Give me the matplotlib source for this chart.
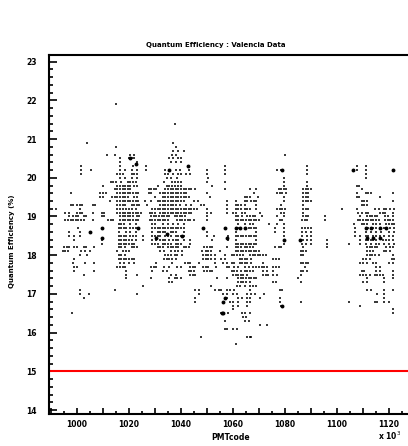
import matplotlib
matplotlib.use("Agg")
import matplotlib.pyplot as plt
from matplotlib.ticker import MultipleLocator, FuncFormatter

# QE levels (%) and the PMT codes (x 10^3) read at each level
qe_levels = [21.9, 21.4, 20.9, 20.8, 20.7, 20.6, 20.5, 20.4, 20.3, 20.2,
             20.1, 20.0, 19.9, 19.8, 19.7, 19.6, 19.5, 19.4, 19.3, 19.2,
             19.1, 19.0, 18.9, 18.8, 18.7, 18.6, 18.5, 18.4, 18.3, 18.2,
             18.1, 18.0, 17.9, 17.8, 17.7, 17.6, 17.5, 17.4, 17.3, 17.2,
             17.1, 17.0, 16.9, 16.8, 16.7, 16.6, 16.5, 16.4, 16.3, 16.2,
             16.1, 15.9, 15.7]

pmt_rows = [
    [1015],
    [1037.5],
    [1004, 1037],
    [1015, 1038],
    [1037, 1039, 1041],
    [1011.5, 1014.5, 1020.5, 1022, 1036.5, 1038, 1080],
    [1016.5, 1020, 1021, 1022, 1035.5, 1037, 1039, 1040],
    [1016.5, 1023, 1036, 1038, 1040],
    [1001.5, 1016.5, 1021.5, 1026.5, 1042.5, 1057, 1088.5, 1107.5, 1111],
    [1001.5, 1005.5, 1016.5, 1018.5, 1021, 1023, 1026.5, 1034, 1035.5, 1038,
     1039.5, 1043, 1050, 1057, 1077, 1078.5, 1088.5, 1106.5, 1107.5, 1111, 1121.5],
    [1001.5, 1015.5, 1016.5, 1017.5, 1021, 1022, 1023, 1034, 1035, 1037, 1039,
     1040, 1042, 1043.5, 1050, 1057, 1088.5, 1111],
    [1016.5, 1018.5, 1021, 1023, 1034.5, 1036, 1038.5, 1050.5, 1079.5, 1111],
    [1013, 1014, 1015, 1017, 1019.5, 1020.5, 1021.5, 1022.5, 1033.5, 1036.5,
     1037.5, 1039, 1040, 1050, 1057, 1079.5, 1088.5],
    [1010, 1015.5, 1016.5, 1017.5, 1018.5, 1019.5, 1020.5, 1022, 1023, 1031,
     1034.5, 1035.5, 1036.5, 1037.5, 1039, 1040, 1052, 1079.5, 1088.5, 1107.5, 1108.5],
    [1014.5, 1015.5, 1016.5, 1017.5, 1018.5, 1019.5, 1020.5, 1027.5, 1028.5,
     1029.5, 1030.5, 1034, 1035, 1036, 1037, 1038, 1039, 1040, 1041, 1042, 1043,
     1044, 1045.5, 1057, 1066.5, 1069, 1077.5, 1078.5, 1079.5, 1080.5, 1087,
     1088, 1089, 1090, 1109.5],
    [997.5, 1009, 1010, 1011, 1015.5, 1016.5, 1017.5, 1018.5, 1019.5, 1020.5,
     1021.5, 1022.5, 1023.5, 1027.5, 1028.5, 1032, 1033, 1034, 1035, 1036, 1037,
     1038, 1039, 1040, 1041, 1042, 1050, 1068, 1077, 1078, 1079, 1080.5, 1087,
     1088, 1089, 1107.5, 1111, 1112, 1113, 1121.5],
    [1009, 1010, 1013.5, 1014.5, 1015.5, 1016.5, 1017.5, 1018.5, 1019.5, 1022,
     1023, 1030, 1033, 1034, 1035, 1036, 1037, 1038, 1039, 1040, 1041, 1042, 1043,
     1051, 1064.5, 1065.5, 1066.5, 1069.5, 1079.5, 1087, 1088, 1089, 1107.5,
     1108.5, 1116.5],
    [1012.5, 1015.5, 1016.5, 1017.5, 1018.5, 1019.5, 1020.5, 1021.5, 1022.5,
     1023.5, 1026, 1028.5, 1031, 1032, 1033, 1034, 1035, 1036, 1037, 1038, 1039,
     1040, 1041, 1045, 1046.5, 1057.5, 1061, 1064.5, 1065.5, 1067, 1068, 1069,
     1079.5, 1087, 1088, 1089, 1090, 1109.5, 1110.5, 1111.5, 1121.5],
    [997.5, 998.5, 1000, 1001, 1002, 1006, 1007, 1015.5, 1016.5, 1017.5, 1018.5,
     1021, 1022, 1023, 1024, 1027, 1032, 1033, 1034, 1035, 1036, 1037, 1038,
     1039.5, 1042, 1044, 1047.5, 1049, 1057.5, 1061, 1062, 1063, 1064.5, 1069,
     1078.5, 1087, 1109.5, 1110.5, 1111.5],
    [992, 1001, 1015.5, 1016.5, 1017.5, 1019, 1020, 1021, 1022.5, 1029, 1030,
     1031, 1032, 1033, 1034, 1035, 1036, 1037, 1038, 1039, 1040, 1041, 1042, 1043,
     1044, 1045, 1046, 1050, 1057.5, 1061, 1062, 1063, 1064.5, 1065.5, 1066.5,
     1069, 1077, 1078, 1079, 1080, 1087, 1088, 1089, 1102, 1107.5, 1114.5, 1116,
     1118, 1119, 1120.5, 1122],
    [995.5, 997, 1000, 1001, 1002, 1006, 1009.5, 1010.5, 1015.5, 1016.5, 1017.5,
     1018.5, 1019.5, 1020.5, 1021.5, 1022.5, 1023.5, 1024.5, 1028, 1029, 1030,
     1032, 1033, 1034, 1035, 1036, 1037, 1038, 1039, 1040, 1041, 1042, 1043, 1044,
     1050, 1051.5, 1057.5, 1060, 1061, 1063.5, 1064.5, 1070.5, 1078.5, 1079.5,
     1087, 1108, 1109.5, 1111, 1112, 1116.5, 1117.5, 1118.5, 1121.5],
    [997, 998.5, 999.5, 1000.5, 1002.5, 1003.5, 1009.5, 1010.5, 1016.5, 1017.5,
     1018.5, 1019.5, 1020.5, 1021.5, 1023, 1024, 1028.5, 1029.5, 1030.5, 1031.5,
     1032.5, 1033.5, 1034.5, 1035.5, 1037.5, 1038.5, 1039.5, 1040.5, 1041.5, 1050,
     1061, 1062, 1063.5, 1065.5, 1066.5, 1067.5, 1068.5, 1071, 1077, 1079.5, 1087,
     1088, 1089, 1095.5, 1109, 1111.5, 1112.5, 1113.5, 1114.5, 1115.5, 1118.5,
     1119.5, 1121.5],
    [995.5, 996.5, 997.5, 998.5, 999.5, 1000.5, 1001.5, 1002.5, 1006, 1012, 1013,
     1014, 1016.5, 1017.5, 1018.5, 1019.5, 1020.5, 1021.5, 1022.5, 1023.5, 1028,
     1029, 1030, 1031, 1032, 1033, 1034, 1035, 1038.5, 1039.5, 1040.5, 1041.5,
     1042.5, 1043.5, 1045, 1050, 1061, 1062, 1063, 1064, 1065, 1066, 1067, 1068,
     1069, 1070, 1078, 1079, 1086.5, 1087.5, 1088.5, 1095.5, 1108, 1109, 1110,
     1111, 1112, 1113, 1114, 1115, 1116, 1118.5, 1119.5, 1120.5, 1121.5],
    [1016, 1017, 1018, 1020.5, 1022.5, 1029, 1030, 1033, 1035, 1037, 1039, 1041,
     1062, 1064.5, 1066.5, 1067.5, 1074, 1077, 1079.5, 1106.5, 1109.5, 1110.5,
     1111.5, 1114, 1115, 1116.5, 1119, 1120, 1121, 1122],
    [1000.5, 1009.5, 1016, 1017, 1018, 1019, 1020.5, 1021.5, 1022.5, 1023.5,
     1029, 1030, 1031, 1032, 1033, 1034, 1035, 1036, 1037, 1038, 1039, 1040, 1041,
     1048.5, 1057, 1061, 1062, 1064.5, 1066, 1067, 1068, 1069, 1076, 1079.5,
     1086.5, 1087.5, 1089, 1090, 1107, 1111, 1112, 1113, 1114, 1115, 1116.5, 1118,
     1119, 1120.5, 1122],
    [997, 1001, 1005, 1016, 1019, 1020.5, 1022.5, 1029, 1031, 1032, 1033, 1034,
     1036, 1037, 1038, 1041, 1050, 1061, 1069, 1076, 1079.5, 1086.5, 1088, 1090,
     1107, 1111, 1113, 1115, 1117, 1120, 1122],
    [997, 999, 1001, 1016, 1017, 1018, 1019, 1020.5, 1021.5, 1022.5, 1025.5, 1029,
     1030, 1031, 1032, 1034, 1035, 1036, 1038, 1039, 1040, 1041, 1050, 1052.5,
     1058, 1061, 1062, 1063, 1064, 1065, 1066, 1067, 1068, 1069, 1079.5, 1086.5,
     1088.5, 1090, 1107, 1109, 1111, 1112, 1114, 1115, 1116.5, 1118, 1120, 1121.5],
    [999, 1009.5, 1016, 1017, 1018, 1019, 1020, 1021, 1022.5, 1025.5, 1029,
     1030.5, 1032, 1033, 1034, 1035.5, 1037, 1038, 1039, 1041, 1043.5, 1052, 1058,
     1061, 1069, 1079.5, 1086, 1087, 1088.5, 1090, 1096, 1109, 1111, 1112, 1113,
     1114, 1115, 1117.5, 1119, 1120, 1121.5],
    [1009.5, 1016, 1017, 1018, 1019, 1020, 1021, 1022, 1029, 1030, 1031, 1033,
     1034, 1035, 1036, 1038, 1039, 1040, 1043.5, 1061, 1062, 1063, 1064, 1065,
     1066, 1067, 1068, 1069, 1079.5, 1086.5, 1088, 1090, 1096, 1104.5, 1109, 1111,
     1113, 1115, 1116, 1118, 1120, 1122],
    [995, 996, 997, 999, 1000, 1002.5, 1003.5, 1006.5, 1016, 1017, 1018.5, 1021,
     1022, 1023, 1031, 1032, 1033, 1035, 1036, 1037, 1038, 1039, 1041, 1042, 1043,
     1049, 1050, 1051, 1052, 1057.5, 1061, 1062, 1063, 1064.5, 1065.5, 1066.5,
     1067.5, 1076, 1077.5, 1078.5, 1087, 1096, 1111.5, 1112.5, 1113.5, 1114.5,
     1115.5, 1119, 1120.5, 1121.5],
    [994.5, 995.5, 996.5, 1001.5, 1003, 1005, 1015.5, 1017.5, 1019, 1020, 1032,
     1033.5, 1036, 1037.5, 1039, 1040.5, 1048, 1049.5, 1050.5, 1051.5, 1055, 1061,
     1062, 1063, 1064, 1065, 1066, 1067, 1068, 1069, 1070, 1086, 1087, 1088,
     1111.5, 1112.5, 1114, 1118, 1119, 1120.5],
    [1001, 1004, 1016, 1017, 1018.5, 1034, 1035, 1036, 1037.5, 1038.5, 1040.5,
     1048.5, 1049.5, 1050.5, 1051.5, 1053, 1057, 1059.5, 1060.5, 1061.5, 1062.5,
     1064, 1066.5, 1067.5, 1068.5, 1069.5, 1070.5, 1071.5, 1072.5, 1086, 1087,
     1111.5, 1112.5, 1113.5, 1114.5, 1116, 1121.5],
    [999, 1016, 1017, 1018, 1019, 1020, 1021, 1022, 1033.5, 1034.5, 1035.5,
     1036.5, 1038, 1048.5, 1049.5, 1050.5, 1051.5, 1053, 1055.5, 1057, 1062.5,
     1063.5, 1064.5, 1065.5, 1067, 1075.5, 1076.5, 1077.5, 1110, 1111, 1112.5,
     1121, 1122],
    [998.5, 1003, 1006.5, 1016.5, 1018, 1020, 1022, 1030.5, 1036.5, 1041.5,
     1042.5, 1043.5, 1047, 1053, 1056, 1057.5, 1059.5, 1060.5, 1062.5, 1063.5,
     1064.5, 1065.5, 1067, 1071.5, 1086, 1087, 1088, 1089, 1109, 1110, 1111.5,
     1114, 1115, 1120, 1121.5],
    [999, 1000, 1015.5, 1016.5, 1017.5, 1018.5, 1028.5, 1029.5, 1030.5, 1033.5,
     1035.5, 1038.5, 1040, 1043.5, 1044.5, 1045.5, 1048.5, 1049.5, 1050.5, 1053.5,
     1057.5, 1058.5, 1060.5, 1062, 1064.5, 1066, 1067.5, 1069, 1070, 1071, 1072,
     1073, 1075.5, 1076.5, 1077.5, 1087.5, 1115, 1116.5],
    [999, 1006.5, 1019, 1029, 1033, 1034.5, 1043, 1044, 1045, 1049, 1050, 1051,
     1052, 1059.5, 1060.5, 1061.5, 1063, 1064.5, 1065.5, 1066.5, 1067.5, 1071.5,
     1073, 1075.5, 1086, 1087, 1088.5, 1109.5, 1110.5, 1115, 1116.5, 1121.5],
    [1002.5, 1019, 1023, 1036, 1038, 1043.5, 1044.5, 1045.5, 1060, 1061, 1062,
     1063, 1064, 1065.5, 1071.5, 1072.5, 1073.5, 1075.5, 1077, 1086, 1109, 1110,
     1111, 1112.5, 1114.5, 1115.5, 1116.5, 1117.5, 1121.5],
    [1019, 1028.5, 1035.5, 1037.5, 1038.5, 1040, 1054, 1057.5, 1062, 1063, 1064,
     1065, 1066, 1067, 1068, 1069, 1085, 1111.5, 1118, 1121.5],
    [1035.5, 1036.5, 1062, 1063, 1064, 1065, 1066.5, 1075.5, 1076.5, 1086, 1110,
     1111.5, 1118],
    [1025.5, 1051.5, 1061.5, 1062.5, 1064.5, 1066.5, 1067.5, 1069],
    [1001, 1014.5, 1045.5, 1047, 1053, 1054.5, 1055.5, 1057.5, 1059, 1060.5,
     1066.5, 1078, 1079, 1111.5, 1113, 1118, 1121.5],
    [1001, 1004.5, 1023, 1047, 1056, 1057.5, 1060, 1061.5, 1065.5, 1067, 1068.5,
     1072, 1115.5, 1118],
    [1002.5, 1045.5, 1057.5, 1062, 1063.5, 1065.5, 1066.5, 1070.5, 1078, 1118],
    [1045.5, 1056.5, 1059, 1060, 1062, 1065.5, 1066.5, 1078, 1086, 1104.5,
     1114.5, 1115.5, 1118, 1120],
    [1060, 1062, 1065.5, 1078.5, 1109],
    [1060, 1121.5],
    [998, 1055.5, 1058, 1063.5, 1064.5, 1066.5, 1121.5],
    [1064, 1065],
    [1057, 1064.5, 1066],
    [1070.5, 1073],
    [1057, 1057.5, 1060, 1061.5],
    [1047.5, 1065.5, 1066.5, 1067],
    [1061],
]

# spots where several measurements pile up on top of each other
dense_pmt = [1005, 1009.5, 1009.5, 1023.5, 1030.5, 1034.5, 1040.5, 1048.5,
             1020.5, 1022.5, 1042.5, 1035.5, 1056.8, 1056.2, 1057, 1057.5,
             1061, 1062.5, 1064.5, 1078.7, 1106.3, 1121.7, 1079.5, 1085.8,
             1111, 1113, 1116.5, 1119, 1111.5, 1114, 1116.5, 1056.3, 1078.7,
             1055.6]
dense_qe = [18.6, 18.7, 18.45, 18.7, 18.45, 18.55, 18.5, 18.7,
            20.5, 20.35, 20.3, 20.2, 16.9, 16.5, 18.7, 18.45,
            18.7, 18.7, 18.7, 20.2, 20.2, 20.2, 18.4, 18.4,
            18.7, 18.7, 18.7, 18.7, 18.45, 18.45, 18.45, 16.8, 16.7,
            16.5]

qe_limit = 15.0

pmt = []
qe = []
for level, row in zip(qe_levels, pmt_rows):
    pmt += row
    qe += [level] * len(row)

fig = plt.figure(figsize=(4.08, 4.46), dpi=100)
ax = fig.add_axes([0.120, 0.0717, 0.880, 0.805])

ax.plot(pmt, qe, ls="none", marker="_", ms=1.6, mew=1.1, color="black",
        antialiased=False)
ax.plot(dense_pmt, dense_qe, ls="none", marker="o", ms=2.8, mew=0, color="black",
        antialiased=False)
ax.axhline(qe_limit, color="red", lw=1.5)

ax.set_xlim(989.2, 1127.3)
ax.set_ylim(13.9, 23.17)

for side in ["left", "bottom", "top"]:
    ax.spines[side].set_linewidth(1.5)
ax.spines["right"].set_visible(False)

ax.xaxis.set_major_locator(MultipleLocator(10))
ax.xaxis.set_minor_locator(MultipleLocator(5))
ax.xaxis.set_major_formatter(FuncFormatter(lambda v, p: "%d" % v if round(v) % 20 == 0 else ""))
ax.yaxis.set_major_locator(MultipleLocator(1))
ax.yaxis.set_minor_locator(MultipleLocator(0.2))

ax.tick_params(which="both", direction="in", top=False, right=False, width=1.2)
ax.tick_params(axis="x", which="major", length=4.5, pad=4)
ax.tick_params(axis="x", which="minor", length=2)
ax.tick_params(axis="y", which="major", length=6, pad=9)
ax.tick_params(axis="y", which="minor", length=3)
for lab in ax.get_xticklabels() + ax.get_yticklabels():
    lab.set_fontsize(5.5)
    lab.set_fontweight("bold")

fig.text(0.53, 0.899, "Quantum Efficiency : Valencia Data", ha="center", va="center",
         fontsize=5, fontweight="bold")
fig.text(0.03, 0.46, "Quantum Efficiency (%)", rotation=90, ha="center", va="center",
         fontsize=5, fontweight="bold")
fig.text(0.565, 0.02, "PMTcode", ha="center", va="center", fontsize=5.5, fontweight="bold")
fig.text(0.955, 0.022, r"x 10$^{3}$", ha="center", va="center", fontsize=5.5, fontweight="bold")

fig.savefig("out.png", dpi=100)
